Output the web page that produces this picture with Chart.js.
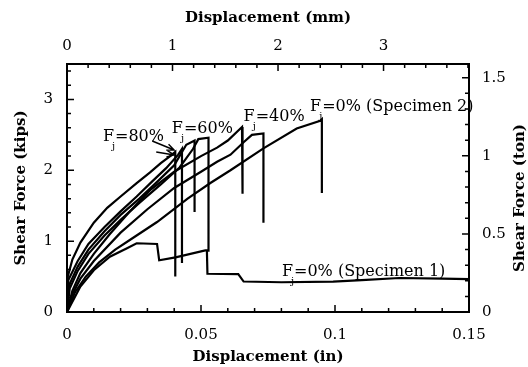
<!DOCTYPE html>
<html>
<head>
<meta charset="utf-8">
<script src="https://cdn.jsdelivr.net/npm/chart.js@4.4.0/dist/chart.umd.min.js"></script>
<style>
  body { margin: 0; background: #fff; }
</style>
</head>
<body>
<canvas id="myChart" width="528" height="367"></canvas>
<script>
// curves, [displacement (in), shear force (kips)]
var f80a = [[0,0],[0.0003,0.5],[0.002,0.74],[0.005,0.98],[0.01,1.26],[0.015,1.47],[0.02,1.63],[0.026,1.82],[0.031,1.97],[0.035,2.1],[0.0385,2.2],[0.0404,2.26],[0.0404,0.5]];
var f80b = [[0,0],[0.0005,0.45],[0.004,0.72],[0.008,0.96],[0.014,1.2],[0.02,1.42],[0.026,1.63],[0.032,1.85],[0.037,2.03],[0.0415,2.22],[0.0429,2.3],[0.0429,0.69]];
var f60a = [[0,0],[0.0008,0.38],[0.004,0.64],[0.008,0.88],[0.014,1.14],[0.02,1.37],[0.027,1.6],[0.034,1.85],[0.04,2.07],[0.0445,2.36],[0.0476,2.42],[0.0476,1.41]];
var f60b = [[0,0],[0.001,0.33],[0.004,0.58],[0.008,0.82],[0.014,1.08],[0.02,1.3],[0.027,1.54],[0.035,1.8],[0.042,2.04],[0.047,2.3],[0.049,2.44],[0.0528,2.46],[0.0528,0.85]];
var f40a = [[0,0],[0.002,0.3],[0.005,0.55],[0.01,0.82],[0.016,1.1],[0.023,1.4],[0.031,1.72],[0.04,1.98],[0.05,2.2],[0.056,2.32],[0.06,2.42],[0.0653,2.61],[0.0655,1.67]];
var f40b = [[0,0],[0.002,0.25],[0.005,0.47],[0.01,0.72],[0.02,1.12],[0.03,1.45],[0.04,1.75],[0.05,1.98],[0.056,2.12],[0.061,2.22],[0.066,2.4],[0.069,2.5],[0.0733,2.52],[0.0733,1.26]];
var spec2 = [[0,0],[0.003,0.28],[0.007,0.5],[0.012,0.7],[0.018,0.88],[0.024,1.03],[0.0336,1.27],[0.045,1.6],[0.0535,1.82],[0.061,2.0],[0.0733,2.31],[0.0857,2.59],[0.0945,2.7],[0.0951,2.72],[0.0951,1.68]];
var spec1 = [[0,0],[0.005,0.36],[0.01,0.59],[0.016,0.78],[0.0224,0.9],[0.026,0.97],[0.0336,0.96],[0.0344,0.73],[0.0405,0.77],[0.0516,0.87],[0.0522,0.87],[0.0524,0.54],[0.0639,0.535],[0.0659,0.43],[0.08,0.42],[0.0993,0.43],[0.11,0.45],[0.124,0.48],[0.14,0.47],[0.15,0.465]];

var curves = [f80a, f80b, f60a, f60b, f40a, f40b, spec2, spec1];

// axis ranges and ticks
var inMax = 0.15;
var kipMax = 3.5;
var mmMax = 0.15 * 25.4;
var tonMax = kipMax / 2.2046;
var minorStep = { x: 0.01, xmm: 0.2, y: 0.2, yton: 0.1 };
var majorStep = { x: 0.05, xmm: 1, y: 1, yton: 0.5 };

// labels on the curves (text after "F", position in in / kips)
var noteText = ["=80%", "=60%", "=40%", "=0% (Specimen 2)", "=0% (Specimen 1)"];
var noteX = [0.0134, 0.0391, 0.0659, 0.0907, 0.0802];
var noteY = [2.42, 2.53, 2.69, 2.837, 0.508];
var arrowFrom = [[0.0318, 2.413], [0.0333, 2.258]];
var arrowTo = [[0.0400, 2.286], [0.0400, 2.216]];

Chart.defaults.font.family = "'DejaVu Serif', serif";
Chart.defaults.color = "#000";

function toPts(arr) {
  var out = [];
  for (var i = 0; i < arr.length; i++) out.push({ x: arr[i][0], y: arr[i][1] });
  return out;
}

var inTicks = {
  id: "inTicks",
  afterDraw: function (chart) {
    var ctx = chart.ctx, a = chart.chartArea;
    ctx.save();
    ctx.strokeStyle = "#000";
    ctx.lineWidth = 1.5;
    ctx.beginPath();
    for (var id in minorStep) {
      var s = chart.scales[id];
      var n = Math.floor(s.max / minorStep[id] + 1e-6);
      for (var i = 0; i <= n; i++) {
        var v = i * minorStep[id];
        var r = v / majorStep[id];
        var len = Math.abs(r - Math.round(r)) < 1e-6 ? 7 : 4;
        var p = s.getPixelForValue(v);
        if (s.position == "bottom") { ctx.moveTo(p, a.bottom); ctx.lineTo(p, a.bottom - len); }
        if (s.position == "top") { ctx.moveTo(p, a.top); ctx.lineTo(p, a.top + len); }
        if (s.position == "left") { ctx.moveTo(a.left, p); ctx.lineTo(a.left + len, p); }
        if (s.position == "right") { ctx.moveTo(a.right, p); ctx.lineTo(a.right - len, p); }
      }
    }
    ctx.stroke();

    // annotations
    var sx = chart.scales.x, sy = chart.scales.y;
    ctx.fillStyle = "#000";
    ctx.textBaseline = "alphabetic";
    ctx.textAlign = "left";
    for (var k = 0; k < noteText.length; k++) {
      var px = sx.getPixelForValue(noteX[k]);
      var py = sy.getPixelForValue(noteY[k]);
      ctx.font = "16px 'DejaVu Serif'";
      ctx.fillText("F", px, py);
      var w = ctx.measureText("F").width;
      ctx.fillText(noteText[k], px + w + 1, py);
      ctx.font = "10px 'DejaVu Serif'";
      ctx.fillText("j", px + w - 2, py + 8);
    }

    // arrows from the 80% label
    ctx.lineWidth = 1.4;
    for (var m = 0; m < arrowFrom.length; m++) {
      var x1 = sx.getPixelForValue(arrowFrom[m][0]), y1 = sy.getPixelForValue(arrowFrom[m][1]);
      var x2 = sx.getPixelForValue(arrowTo[m][0]), y2 = sy.getPixelForValue(arrowTo[m][1]);
      var ang = Math.atan2(y2 - y1, x2 - x1);
      ctx.beginPath();
      ctx.moveTo(x1, y1);
      ctx.lineTo(x2, y2);
      ctx.moveTo(x2 - 8 * Math.cos(ang - 0.4), y2 - 8 * Math.sin(ang - 0.4));
      ctx.lineTo(x2, y2);
      ctx.lineTo(x2 - 8 * Math.cos(ang + 0.4), y2 - 8 * Math.sin(ang + 0.4));
      ctx.stroke();
    }

    // right axis title reads bottom to top, like the left one
    ctx.save();
    ctx.translate(520, (a.top + a.bottom) / 2 + 10);
    ctx.rotate(-Math.PI / 2);
    ctx.font = "bold 15px 'DejaVu Serif'";
    ctx.textAlign = "center";
    ctx.textBaseline = "middle";
    ctx.fillText("Shear Force (ton)", 0, 0);
    ctx.restore();

    ctx.restore();
  }
};

var sets = [];
for (var i = 0; i < curves.length; i++) {
  sets.push({
    data: toPts(curves[i]),
    borderColor: "#000",
    borderWidth: 2.2,
    pointRadius: 0,
    fill: false,
    tension: 0,
    xAxisID: "x",
    yAxisID: "y"
  });
}

function fmt(v) { return String(+v.toFixed(3)); }

new Chart("myChart", {
  type: "line",
  data: { datasets: sets },
  options: {
    responsive: false,
    animation: false,
    devicePixelRatio: 1,
    layout: { padding: 0 },
    plugins: { legend: { display: false }, tooltip: { enabled: false } },
    scales: {
      x: {
        type: "linear", position: "bottom", min: 0, max: inMax,
        grid: { display: false, drawTicks: false },
        border: { display: true, color: "#000", width: 2 },
        ticks: { stepSize: 0.05, includeBounds: false, padding: 14, font: { size: 15 }, callback: fmt, maxRotation: 0 },
        title: { display: true, text: "Displacement (in)", font: { size: 15, weight: "bold" }, padding: { top: 0, bottom: 1 } },
        afterFit: function (s) { s.height = 55; }
      },
      xmm: {
        type: "linear", position: "top", min: 0, max: mmMax,
        grid: { display: false, drawTicks: false },
        border: { display: true, color: "#000", width: 2 },
        ticks: { stepSize: 1, includeBounds: false, padding: 9, font: { size: 15 }, callback: fmt, maxRotation: 0 },
        title: { display: true, text: "Displacement (mm)", font: { size: 15, weight: "bold" }, padding: { top: 9, bottom: 0 } },
        afterFit: function (s) { s.height = 64; }
      },
      y: {
        type: "linear", position: "left", min: 0, max: kipMax,
        grid: { display: false, drawTicks: false },
        border: { display: true, color: "#000", width: 2 },
        ticks: { stepSize: 1, includeBounds: false, padding: 14, font: { size: 15 }, callback: fmt },
        title: { display: true, text: "Shear Force (kips)", font: { size: 15, weight: "bold" }, padding: { top: 12, bottom: 0 } },
        afterFit: function (s) { s.width = 67; }
      },
      yton: {
        type: "linear", position: "right", min: 0, max: tonMax,
        grid: { display: false, drawTicks: false },
        border: { display: true, color: "#000", width: 2 },
        ticks: { stepSize: 0.5, includeBounds: false, padding: 13, font: { size: 15 }, callback: fmt },
        afterFit: function (s) { s.width = 59; }
      }
    }
  },
  plugins: [inTicks]
});
</script>
</body>
</html>
